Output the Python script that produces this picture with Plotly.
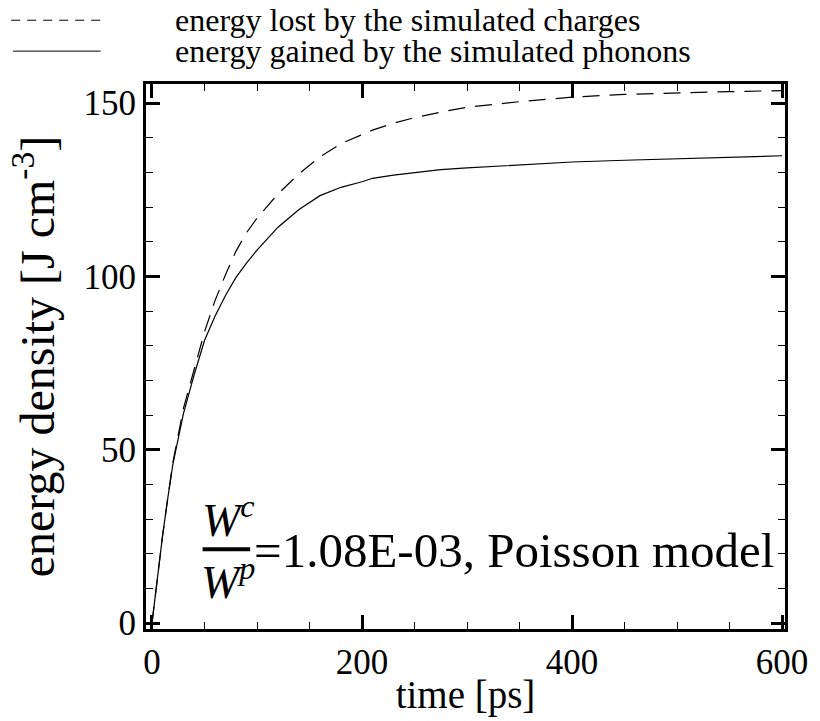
import plotly.graph_objects as go

# time in ps
time_ps = [0, 5, 10, 15, 20, 30, 40, 50, 60, 70, 80, 90, 100, 120, 140, 160, 180,
           200, 210, 230, 250, 275, 300, 350, 400, 450, 500, 550, 600]
# energy lost by the simulated charges [J cm^-3]
charges_lost = [0, 13, 25, 36, 46.5, 62, 73, 84, 93, 100.5, 107.3, 112.6, 116.8, 123.8,
                129.6, 134.5, 138.3, 141.0, 142.2, 144.2, 145.8, 147.4, 148.8, 150.4,
                151.7, 152.5, 153.0, 153.3, 153.6]
# energy gained by the simulated phonons [J cm^-3]
phonons_gained = [0, 13, 25, 36, 46, 60.5, 71.5, 81.5, 88.5, 94.5, 99.7, 103.8, 107.6,
                  114.2, 119.3, 123.3, 125.7, 127.3, 128.3, 129.2, 129.9, 130.8, 131.3,
                  132.2, 133.0, 133.5, 133.9, 134.3, 134.8]

legend_labels = ["energy lost by the simulated charges",
                 "energy gained by the simulated phonons"]
x_ticks = [0, 200, 400, 600]
y_ticks = [0, 50, 100, 150]

FONT = "Liberation Serif"

fig = go.Figure()
fig.add_trace(go.Scatter(x=time_ps, y=charges_lost, mode="lines",
                         line=dict(color="black", width=1.2, dash="17px,10px"),
                         name=legend_labels[0], showlegend=False))
fig.add_trace(go.Scatter(x=time_ps, y=phonons_gained, mode="lines",
                         line=dict(color="black", width=1.2),
                         name=legend_labels[1], showlegend=False))

axis_common = dict(showline=True, linewidth=3, linecolor="black", mirror="allticks",
                   ticks="inside", ticklen=14, tickwidth=3, tickcolor="black",
                   showgrid=False, zeroline=False,
                   tickfont=dict(family=FONT, size=35, color="black"))

fig.update_xaxes(range=[-5.7, 602.8], tickvals=x_ticks,
                 minor=dict(dtick=50, ticks="inside", ticklen=7, tickwidth=1,
                            tickcolor="black", showgrid=False),
                 title=dict(text="time [ps]", font=dict(family=FONT, size=39, color="black"),
                            standoff=0),
                 **axis_common)
fig.update_yaxes(range=[-1.7, 155.5], tickvals=y_ticks,
                 minor=dict(dtick=10, ticks="inside", ticklen=7, tickwidth=1,
                            tickcolor="black", showgrid=False),
                 title=dict(text="energy density [J cm<sup>-3</sup>]",
                            font=dict(family=FONT, size=48, color="black"), standoff=14),
                 **axis_common)

# legend drawn by hand (long line samples)
legend_y = [1.1170, 1.0603]
fig.add_shape(type="line", xref="paper", yref="paper", x0=-0.211, x1=-0.071,
              y0=legend_y[0], y1=legend_y[0], line=dict(color="black", width=1, dash="9px,7px"))
fig.add_shape(type="line", xref="paper", yref="paper", x0=-0.208, x1=-0.071,
              y0=legend_y[1], y1=legend_y[1], line=dict(color="black", width=1))
for lbl, yy in zip(legend_labels, legend_y):
    fig.add_annotation(text=lbl, xref="paper", yref="paper", x=0.042, y=yy,
                       xanchor="left", yanchor="middle", showarrow=False,
                       font=dict(family=FONT, size=32, color="black"))

# fraction annotation
fig.add_shape(type="line", xref="x", yref="y", x0=48.2, x1=93.5, y0=21.3, y1=21.3,
              line=dict(color="black", width=4))
fig.add_annotation(text="<i>W</i><sup><i>c</i></sup>", x=72.8, y=30.5, xref="x", yref="y",
                   showarrow=False, xanchor="center", yanchor="middle",
                   font=dict(family=FONT, size=46, color="black"))
fig.add_annotation(text="<i>W</i><sup><i>p</i></sup>", x=72.8, y=12.6, xref="x", yref="y",
                   showarrow=False, xanchor="center", yanchor="middle",
                   font=dict(family=FONT, size=46, color="black"))
fig.add_annotation(text="=1.08E-03, Poisson model", x=95.0, y=21.0, xref="x", yref="y",
                   showarrow=False, xanchor="left", yanchor="middle",
                   font=dict(family=FONT, size=49, color="black"))

fig.update_layout(width=820, height=721, margin=dict(l=146, r=30, t=84, b=90),
                  plot_bgcolor="white", paper_bgcolor="white", showlegend=False,
                  font=dict(family=FONT, color="black"))

fig.write_html("out.html")
